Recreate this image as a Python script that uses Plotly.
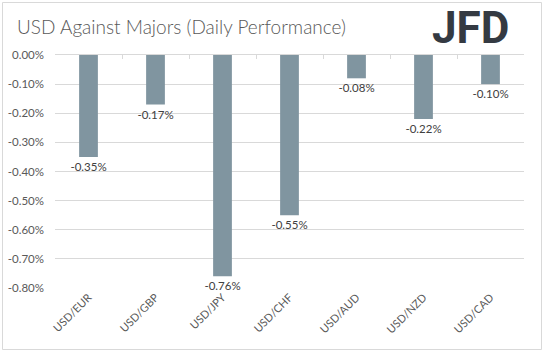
import plotly.graph_objects as go

categories = ["USD/EUR", "USD/GBP", "USD/JPY", "USD/CHF", "USD/AUD", "USD/NZD", "USD/CAD"]
values = [-0.35, -0.17, -0.76, -0.55, -0.08, -0.22, -0.10]
y_ticks = [0.0, -0.1, -0.2, -0.3, -0.4, -0.5, -0.6, -0.7, -0.8]
y_tick_labels = [f"{v:.2f}%" for v in y_ticks]

W, H = 543, 352
ML, MR, MT, MB = 55, 19, 55, 64
pw, ph = W - ML - MR, H - MT - MB

fig = go.Figure()
fig.add_trace(go.Bar(
    x=categories, y=values,
    marker=dict(color="#8095a0", line=dict(width=0)),
    width=0.28,
    text=[f"{v:.2f}%" for v in values],
    textposition="outside",
    constraintext="none",
    textfont=dict(family="Lato", size=11.5, color="#404040"),
    cliponaxis=False,
    showlegend=False,
))
# invisible trace for top boundary ticks axis
fig.add_trace(go.Bar(x=categories, y=[None]*len(categories), xaxis="x2", showlegend=False, hoverinfo="skip"))

fig.update_layout(
    width=W, height=H,
    margin=dict(l=ML, r=MR, t=MT, b=MB, autoexpand=False),
    paper_bgcolor="white", plot_bgcolor="white",
    font=dict(family="Lato", size=11.5, color="#595959"),
    xaxis=dict(
        type="category", tickangle=-45, showgrid=False, showline=False, ticks="",
        tickfont=dict(family="Lato", size=11, color="#595959"), zeroline=False,
        automargin=False,
    ),
    xaxis2=dict(
        type="category", overlaying="x", side="top", matches="x",
        showticklabels=False, ticks="inside", tickson="boundaries", ticklen=4,
        tickcolor="#d9d9d9", showline=True, linecolor="#d9d9d9", linewidth=1, showgrid=False,
        automargin=False,
    ),
    yaxis=dict(
        range=[-0.8, 0], tickvals=y_ticks, ticktext=y_tick_labels,
        showgrid=True, gridcolor="#d9d9d9", gridwidth=1, zeroline=False,
        tickfont=dict(family="Lato", size=11.5, color="#595959"),
        ticklabelstandoff=10, automargin=False,
    ),
    bargap=0.72,
    annotations=[
        dict(text="USD Against Majors (Daily Performance)", xref="paper", yref="paper",
             x=(15 - ML) / pw, y=1 + (MT - 13) / ph, xanchor="left", yanchor="top",
             showarrow=False, font=dict(family="Lato", size=19, color="#595959", weight=300)),
        dict(text="<b>JFD</b>", xref="paper", yref="paper",
             x=(511 - ML) / pw, y=1 + (MT - 0) / ph, xanchor="right", yanchor="top",
             showarrow=False, font=dict(family="Roboto", size=44, color="#343a42")),
    ],
    shapes=[
        dict(type="rect", xref="paper", yref="paper",
             x0=(2.5 - ML) / pw, x1=(541.5 - ML) / pw,
             y0=-(H - 2.5 - MT - ph) / ph, y1=1 + (MT - 2.5) / ph,
             line=dict(color="#d9d9d9", width=1), fillcolor="rgba(0,0,0,0)", layer="below"),
    ],
)

fig.write_html("out.html")
